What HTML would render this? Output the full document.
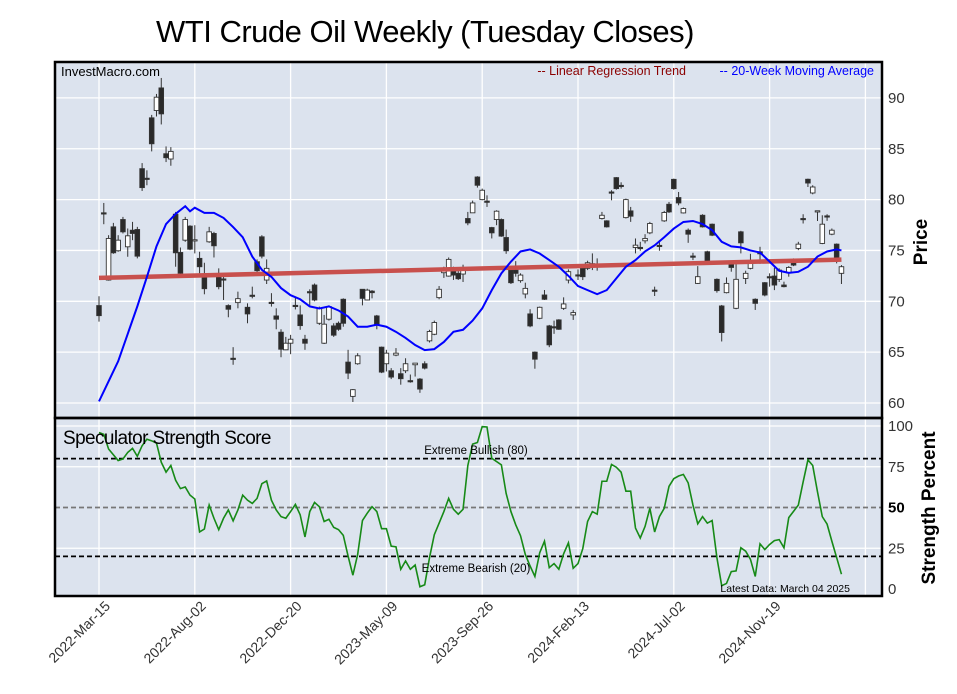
<!DOCTYPE html>
<html><head><meta charset="utf-8"><style>
body{margin:0;background:#fff;}
svg{display:block;font-family:"Liberation Sans",Arial,sans-serif;}
</style></head><body>
<svg id="chart" width="957" height="694" viewBox="0 0 957 694" xmlns="http://www.w3.org/2000/svg">
<text x="425" y="42" font-size="31" text-anchor="middle" fill="#000" letter-spacing="-0.5">WTI Crude Oil Weekly (Tuesday Closes)</text>
<rect x="55" y="62" width="827" height="356" fill="#dce3ee"/>
<rect x="55" y="418" width="827" height="178" fill="#dce3ee"/>
<g id="grid"></g>
<g id="marks"></g>
<rect x="55" y="62" width="827" height="356" fill="none" stroke="#000" stroke-width="2.5"/>
<rect x="55" y="418" width="827" height="178" fill="none" stroke="#000" stroke-width="2.5"/>
<text x="61" y="76" font-size="13" fill="#000">InvestMacro.com</text>
<text x="686" y="75" font-size="12.5" fill="#8b0000" text-anchor="end">-- Linear Regression Trend</text>
<text x="874" y="75" font-size="12.5" fill="#0000ff" text-anchor="end">-- 20-Week Moving Average</text>
<text transform="translate(927,242) rotate(-90)" font-size="19" font-weight="bold" text-anchor="middle">Price</text>
<text transform="translate(935,508) rotate(-90)" font-size="19" font-weight="bold" text-anchor="middle">Strength Percent</text>
<text x="63" y="444" font-size="19" fill="#000" letter-spacing="-0.6">Speculator Strength Score</text>
<text x="476" y="454" font-size="11.5" text-anchor="middle">Extreme Bullish (80)</text>
<text x="476" y="572" font-size="11.5" text-anchor="middle">Extreme Bearish (20)</text>
<text x="850" y="592" font-size="10.5" text-anchor="end">Latest Data: March 04 2025</text>
</svg>
<script>
const priceTicks=[60,65,70,75,80,85,90];
const strengthTicks=[0,25,50,75,100];
const dateLabels=["2022-Mar-15","2022-Aug-02","2022-Dec-20","2023-May-09","2023-Sep-26","2024-Feb-13","2024-Jul-02","2024-Nov-19"];
const dateLabelWeeks=[0,20,40,60,80,100,120,140];
// candles: [week, open, high, low, close]
const candleWeeks=[0,1,2,3,4,5,6,7,8,9,10,11,12,13,14,15,16,17,18,19,20,21,22,23,24,25,26,27,28,29,31,32,33,34,35,36,37,38,39,40,41,42,43,44,45,46,47,48,49,50,51,52,53,54,55,56,57,58,59,60,61,62,63,64,65,66,67,68,69,70,71,72,73,74,75,76,77,78,79,80,81,82,83,84,85,86,87,88,89,90,91,92,93,94,95,96,97,98,99,100,101,102,103,104,105,106,107,108,109,110,111,112,113,114,115,116,117,118,119,120,121,122,123,124,125,126,127,128,129,130,131,132,133,134,135,136,137,138,139,140,141,142,143,144,145,146,147,148,149,150,151,152,153,154,155];
const opens=[69.58,78.7,72.09,77.32,74.97,78.04,75.36,76.99,77.06,83.04,82.1,88.04,88.76,90.98,84.51,83.99,78.56,74.80,76.01,77.39,76.0,74.22,72.42,75.85,76.67,72.42,72.2,69.58,64.4,69.87,69.41,70.6,73.89,76.34,72.09,69.9,68.56,66.96,65.23,65.88,69.6,68.66,66.27,70.95,71.6,67.84,65.88,68.24,67.58,67.84,70.20,64.02,60.65,63.86,71.18,70.13,71.0,68.56,65.49,63.86,63.17,64.71,62.88,63.17,62.2,63.76,62.35,63.86,66.11,66.76,70.36,72.81,72.48,73.01,72.75,72.68,78.14,78.7,82.22,80.0,79.85,77.25,78.04,78.04,76.27,73.07,73.07,72.03,70.72,68.76,65.0,68.33,70.62,67.58,67.5,68.17,69.31,72.09,68.66,72.6,73.24,73.24,73.7,73.65,78.14,77.91,80.75,82.16,81.4,78.23,78.89,75.29,75.3,75.95,76.73,71.1,75.5,77.91,79.54,81.99,80.2,78.69,76.99,74.45,71.76,78.46,74.87,77.58,72.16,69.54,70.85,73.66,69.31,76.83,72.25,73.24,70.2,74.87,71.83,72.42,72.48,72.16,71.6,72.81,73.79,75.2,78.14,82.0,80.65,78.9,75.69,78.4,76.6,75.62,72.75];
const highs=[70.5,79.67,76.5,77.71,76.5,78.3,77.16,77.81,77.32,83.59,82.88,88.33,90.39,91.96,85.23,85.16,78.79,75.29,78.30,77.48,77.48,74.87,73.79,77.32,76.83,73.24,72.42,69.7,65.49,70.95,69.8,71.44,74.12,76.5,74.12,70.8,69.31,67.25,66.5,66.7,70.4,69.6,66.7,71.18,71.75,69.48,68.66,69.6,67.84,68.01,70.29,65.23,61.37,64.9,71.2,71.24,71.1,68.66,65.55,65.23,63.43,65.4,63.43,64.4,62.8,63.92,62.45,64.1,67.2,68.1,71.5,73.4,74.31,73.4,73.24,73.6,78.79,79.9,82.3,81.08,80.42,77.32,78.95,78.14,77.06,73.24,73.95,72.75,71.83,69.22,65.07,69.48,71.11,67.68,68.1,68.24,70.39,73.14,69.15,73.14,73.66,73.99,74.71,74.22,78.79,77.97,80.92,82.22,81.7,80.1,79.28,76.18,75.85,76.6,77.81,71.44,76.0,78.89,79.77,82.06,80.75,79.22,77.16,74.77,73.46,78.56,74.97,77.65,72.25,69.64,72.35,73.79,73.66,76.93,73.01,74.67,70.29,75.36,71.89,72.75,73.3,73.24,71.93,73.46,74.22,75.85,78.56,82.06,81.41,78.9,78.46,78.56,77.16,75.69,73.56];
const lows=[68.0,77.58,72.03,74.67,74.87,76.67,74.38,76.01,74.22,80.85,81.41,84.74,88.17,87.39,83.69,83.33,73.40,72.68,75.85,75.03,74.71,72.75,70.69,75.75,74.31,71.18,70.13,68.43,63.76,69.31,67.84,70.29,72.75,74.22,71.7,69.48,67.25,64.5,65.2,64.8,69.2,67.2,65.23,69.6,70.0,67.68,65.8,68.1,66.5,67.1,67.5,62.35,60.1,63.76,69.6,70.1,70.29,67.25,62.94,63.1,62.35,64.6,61.8,62.94,62.0,62.6,61.0,63.3,65.95,66.67,70.2,72.3,72.42,72.1,72.1,71.9,77.48,78.7,81.18,79.93,79.28,76.18,77.48,76.34,74.67,71.70,72.42,71.83,70.29,67.45,63.37,68.24,70.13,65.49,66.8,67.19,69.15,71.76,68.17,72.09,72.09,73.07,73.07,73.01,78.04,77.25,79.93,80.98,81.08,78.14,77.81,74.71,74.97,75.69,76.6,70.52,74.97,77.81,78.69,80.98,79.44,78.63,75.75,74.05,71.70,77.25,73.79,76.41,70.85,66.05,70.78,72.91,69.22,74.71,71.70,73.14,69.15,73.69,70.49,71.44,71.1,71.9,71.37,72.42,73.46,75.03,77.65,81.24,80.52,77.9,75.62,77.91,76.5,73.73,71.7];
const closes=[68.59,78.6,76.18,74.77,76.01,76.83,76.44,76.67,74.44,81.18,82.0,85.49,90.07,88.43,84.12,84.74,74.77,72.75,78.04,75.13,76.05,73.40,71.24,76.83,75.46,71.44,72.1,69.22,64.35,70.26,68.76,70.55,73.01,74.44,73.24,69.85,68.24,65.29,65.88,66.27,69.55,67.61,65.88,70.9,70.13,69.31,67.75,69.48,66.67,67.25,67.84,62.94,61.31,64.64,70.29,71.1,70.85,67.68,63.04,64.90,62.55,64.9,62.39,63.86,62.15,63.92,61.37,63.43,67.03,67.91,71.18,73.01,74.12,72.58,72.22,73.07,77.71,79.67,81.41,80.92,79.8,76.73,78.86,76.41,74.97,71.83,72.75,72.58,71.27,67.58,64.31,69.41,70.20,65.72,67.45,67.25,69.74,72.91,68.89,72.55,72.42,73.79,73.65,73.6,78.46,77.32,80.7,81.08,81.35,80.0,78.37,75.52,75.25,76.18,77.65,71.05,75.45,78.73,78.79,81.08,79.67,79.12,76.6,74.4,72.42,77.32,73.89,76.5,71.05,66.93,71.76,73.33,72.16,75.75,72.75,73.73,69.8,74.67,70.62,72.38,71.6,73.07,71.44,73.33,73.56,75.62,78.1,81.63,81.24,78.9,77.58,78.35,76.99,74.22,73.4];
// 20-week moving average, read at sample weeks
const maWeeks=[0,4,8,10,12,14,16,18,19,20,22,24,26,28,30,32,34,36,38,40,42,44,46,48,50,52,54,56,58,60,62,64,66,68,70,72,74,76,78,80,82,84,86,88,90,92,94,96,98,100,102,104,106,108,110,112,114,116,118,120,122,124,126,128,130,132,134,136,138,140,142,144,146,148,150,152,154,155];
const maValues=[60.16,64.1,69.5,72.4,75.4,77.6,78.6,79.35,78.85,79.2,78.7,78.7,78.2,77.3,76.3,74.4,73.1,72.4,71.3,70.6,70.2,69.5,69.3,69.5,69.1,68.5,67.5,67.5,67.7,67.5,67.0,66.4,65.7,65.2,65.3,66.0,67.0,67.2,68.1,69.3,71.1,72.75,73.9,74.9,75.1,74.7,74.05,73.4,72.5,71.5,71.1,70.7,71.1,72.25,73.4,74.05,74.9,75.5,76.3,77.15,77.8,77.9,77.6,77.0,75.85,75.4,75.3,75.0,74.8,73.9,73.0,72.8,72.9,73.4,74.4,74.9,75.1,75.0];
const trendWeeks=[0,155];
const trendValues=[72.3,74.1];
const strengthWeeks=[0,1,2,4,5,6,7,8,9,10,11,12,13,14,15,16,17,18,19,20,21,22,23,24,25,26,27,28,29,30,31,32,33,34,35,36,37,38,39,40,41,42,43,44,45,46,47,48,49,50,51,52,53,54,55,56,57,58,59,60,61,62,63,64,65,66,67,68,69,70,71,72,73,74,75,76,77,78,79,80,81,82,84,85,86,87,88,89,90,91,92,93,94,95,96,97,98,99,100,101,102,103,104,105,106,107,108,109,110,111,112,113,114,115,116,117,118,119,120,121,122,123,124,125,126,127,128,129,130,131,132,133,134,135,136,137,138,139,140,141,142,143,144,146,147,148,149,150,151,152,153,154,155];
const strengthValues=[96.0,94.9,85.9,78.8,79.8,83.8,86.3,81.4,87.9,91.9,90.9,89.5,77.8,71.7,75.8,66.7,61.6,62.6,57.6,55.2,35.0,36.8,51.5,43.4,36.4,43.4,48.5,41.8,48.5,57.6,54.5,52.5,55.6,64.6,66.3,54.5,48.5,44.4,43.4,47.5,51.9,45.5,31.9,47.5,53.1,50.5,41.4,42.8,37.8,36.4,32.9,20.2,8.5,21.2,42.0,46.5,50.5,47.5,37.0,37.0,26.3,25.9,12.1,17.2,12.1,14.7,1.4,2.6,19.2,33.3,40.4,47.5,55.6,48.9,45.9,48.9,75.8,88.9,89.9,99.6,99.4,80.2,76.2,58.6,47.5,39.4,32.7,21.2,14.1,7.7,22.2,29.3,13.1,15.6,12.1,21.6,28.3,12.7,15.6,24.8,41.4,47.5,45.9,66.1,66.1,76.4,74.7,71.7,60.0,60.0,37.4,31.3,38.4,49.5,35.0,44.4,49.5,63.0,67.7,69.3,70.3,65.1,51.5,40.0,44.4,40.4,42.0,19.2,2.0,3.4,10.7,11.1,25.3,23.2,18.2,7.7,27.7,24.2,27.3,29.7,30.3,25.3,43.8,51.5,65.7,79.2,75.8,59.6,44.4,39.8,29.3,19.2,9.1];

const NS="http://www.w3.org/2000/svg";
const X=w=>99+w*4.79;
const YP=p=>403-(p-60)*10.17;
const YS=s=>589-s*1.63;
const grid=document.getElementById('grid');
const marks=document.getElementById('marks');
const svg=document.getElementById('chart');
function mk(tag,attrs,parent){const e=document.createElementNS(NS,tag);for(const k in attrs)e.setAttribute(k,attrs[k]);parent.appendChild(e);return e;}

for(let i=0;i<=dateLabelWeeks.length;i++){
  const w=i<dateLabelWeeks.length?dateLabelWeeks[i]:dateLabelWeeks[dateLabelWeeks.length-1]+20;
  const x=X(w);
  const l1=mk('line',{x1:x,x2:x,y1:62,y2:418,stroke:'#fff','stroke-width':1.3},grid);
  
  
  const l2=mk('line',{x1:x,x2:x,y1:418,y2:596,stroke:'#fff','stroke-width':1.3},grid);
  
  
  if(i<dateLabels.length){
    const t=mk('text',{transform:`translate(${x+12},${607}) rotate(-45)`,'font-size':14,'text-anchor':'end',fill:'#333'},svg);
    t.textContent=dateLabels[i];
    
    
  }
}
priceTicks.forEach(p=>{
  const y=YP(p);
  const l=mk('line',{x1:55,x2:882,y1:y,y2:y,stroke:'#fff','stroke-width':1.3},grid);
  
  
  const t=mk('text',{x:888,y:y+5,'font-size':15,fill:'#333'},svg);
  t.textContent=p;
  
  
});
strengthTicks.forEach(s=>{
  const y=YS(s);
  if(s!==0&&s!==50){
    const l=mk('line',{x1:55,x2:882,y1:y,y2:y,stroke:'#fff','stroke-width':1.3},grid);
    
    
  }
  const t=mk('text',{x:888,y:y+5,'font-size':15,fill:s===50?'#000':'#333','font-weight':s===50?'bold':'normal'},svg);
  t.textContent=s;
  
  
});
[[80,'#000'],[50,'#777'],[20,'#000']].forEach(([s,c])=>{
  const l=mk('line',{x1:55,x2:882,y1:YS(s),y2:YS(s),stroke:c,'stroke-width':1.8,'stroke-dasharray':'5,3'},grid);
  
  
});

for(let i=0;i<candleWeeks.length;i++){
  const x=X(candleWeeks[i]),o=opens[i],c=closes[i];
  const g=mk('g',{},marks);
  
  
  mk('line',{x1:x,x2:x,y1:YP(highs[i]),y2:YP(lows[i]),stroke:'#333','stroke-width':1},g);
  const top=YP(Math.max(o,c)),bot=YP(Math.min(o,c));
  const h=Math.max(bot-top,1.2);
  mk('rect',{x:x-2.3,y:top,width:4.6,height:h,fill:c<o?'#2a2a2a':'#fff',stroke:'#333','stroke-width':0.9},g);
}
const tr=mk('line',{x1:X(trendWeeks[0]),y1:YP(trendValues[0]),x2:X(trendWeeks[1]),y2:YP(trendValues[1]),stroke:'#c8504d','stroke-width':4.5},marks);


const ma=mk('polyline',{points:maWeeks.map((w,i)=>X(w)+','+YP(maValues[i])).join(' '),fill:'none',stroke:'#0000ff','stroke-width':2},marks);


const st=mk('polyline',{points:strengthWeeks.map((w,i)=>X(w)+','+YS(strengthValues[i])).join(' '),fill:'none',stroke:'#178a17','stroke-width':1.6},marks);


</script>
</body></html>
